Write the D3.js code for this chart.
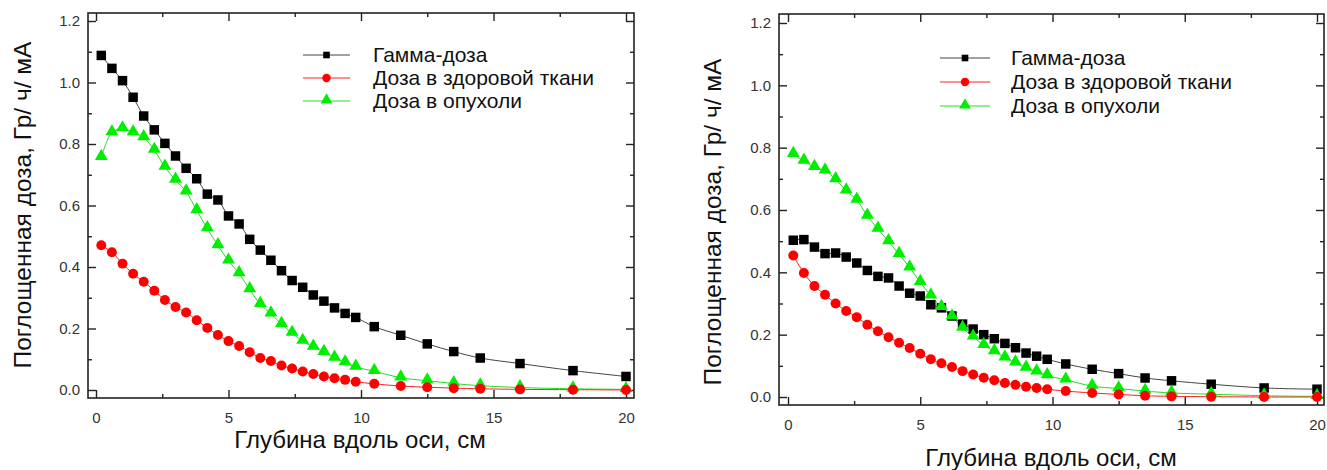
<!DOCTYPE html>
<html><head><meta charset="utf-8">
<script src="https://cdn.jsdelivr.net/npm/d3@7"></script>
<style>body{margin:0;background:#fff}svg{display:block}text{font-family:"Liberation Sans",Arial,sans-serif}</style>
</head><body>
<svg id="c" width="1327" height="470"></svg>
<script>
const depth = [0.2,0.6,1.0,1.4,1.8,2.2,2.6,3.0,3.4,3.8,4.2,4.6,5.0,5.4,5.8,6.2,6.6,7.0,7.4,7.8,8.2,8.6,9.0,9.4,9.8,10.5,11.5,12.5,13.5,14.5,16,18,20];
const seriesNames = ["Гамма-доза","Доза в здоровой ткани","Доза в опухоли"];
// Left panel
const leftGamma = [1.088,1.046,1.006,0.952,0.891,0.846,0.802,0.761,0.721,0.687,0.637,0.618,0.566,0.540,0.490,0.455,0.422,0.388,0.356,0.334,0.309,0.289,0.267,0.249,0.236,0.206,0.178,0.150,0.125,0.104,0.086,0.063,0.044];
const leftHealthy = [0.471,0.448,0.411,0.378,0.352,0.323,0.293,0.270,0.252,0.227,0.202,0.179,0.159,0.143,0.123,0.104,0.094,0.080,0.070,0.060,0.052,0.044,0.038,0.033,0.027,0.020,0.013,0.009,0.006,0.004,0.002,0.001,0.0];
const leftTumor = [0.757,0.837,0.850,0.837,0.821,0.780,0.725,0.683,0.645,0.584,0.525,0.470,0.420,0.379,0.327,0.279,0.248,0.214,0.185,0.159,0.140,0.123,0.104,0.089,0.075,0.061,0.040,0.030,0.021,0.014,0.008,0.004,0.002];
// Right panel
const rightGamma = [0.503,0.505,0.481,0.460,0.462,0.449,0.430,0.406,0.387,0.382,0.356,0.333,0.324,0.296,0.286,0.260,0.234,0.218,0.200,0.187,0.172,0.158,0.141,0.131,0.121,0.106,0.089,0.075,0.061,0.052,0.041,0.029,0.025];
const rightHealthy = [0.454,0.398,0.356,0.328,0.300,0.276,0.256,0.232,0.211,0.192,0.174,0.157,0.139,0.121,0.108,0.096,0.083,0.072,0.062,0.054,0.045,0.039,0.033,0.029,0.025,0.019,0.013,0.008,0.004,0.002,0.001,0.0,0.0];
const rightTumor = [0.779,0.757,0.737,0.726,0.698,0.662,0.632,0.581,0.539,0.499,0.458,0.415,0.368,0.325,0.288,0.258,0.221,0.193,0.166,0.146,0.126,0.110,0.093,0.081,0.069,0.055,0.035,0.027,0.019,0.013,0.009,0.004,0.002];
const xTicks = [0,5,10,15,20];
const yTicks = [0.0,0.2,0.4,0.6,0.8,1.0,1.2];
const xTitle = "Глубина вдоль оси, см";
const yTitle = "Поглощенная доза, Гр/ ч/ мА";

const colors = ["#000000","#ff0000","#00ee00"];
const lineColors = ["#444444","#ff2020","#22dd22"];
const svg = d3.select("#c");

function panel(cfg, series) {
  const g = svg.append("g");
  const x = d3.scaleLinear().domain([0,20]).range([cfg.x0, cfg.x20]);
  const y = d3.scaleLinear().domain([0,1.2]).range([cfg.y0, cfg.y12]);
  const L = cfg.left, R = cfg.right, T = cfg.top, B = cfg.bottom;
  const fmt = d3.format(".1f");
  const ax = (sel, axis) => { sel.call(axis); sel.select(".domain").remove(); sel.selectAll("line").attr("stroke","#222").attr("stroke-width",1.4); sel.selectAll("text").attr("fill","#333").attr("font-size",15); };
  g.append("g").attr("transform",`translate(0,${B})`).call(s=>ax(s,d3.axisBottom(x).tickValues(xTicks).tickSize(-8).tickPadding(14)));
  g.append("g").attr("transform",`translate(0,${B})`).call(s=>ax(s,d3.axisBottom(x).tickValues([2.5,7.5,12.5,17.5]).tickSize(-4).tickFormat("")));
  g.append("g").attr("transform",`translate(0,${T})`).call(s=>ax(s,d3.axisTop(x).tickValues(xTicks).tickSize(-8).tickFormat("")));
  g.append("g").attr("transform",`translate(0,${T})`).call(s=>ax(s,d3.axisTop(x).tickValues([2.5,7.5,12.5,17.5]).tickSize(-4).tickFormat("")));
  g.append("g").attr("transform",`translate(${L},0)`).call(s=>ax(s,d3.axisLeft(y).tickValues(yTicks).tickSize(-8).tickPadding(8).tickFormat(fmt)));
  g.append("g").attr("transform",`translate(${L},0)`).call(s=>ax(s,d3.axisLeft(y).tickValues([0.1,0.3,0.5,0.7,0.9,1.1]).tickSize(-4).tickFormat("")));
  g.append("g").attr("transform",`translate(${R},0)`).call(s=>ax(s,d3.axisRight(y).tickValues(yTicks).tickSize(-8).tickFormat("")));
  g.append("g").attr("transform",`translate(${R},0)`).call(s=>ax(s,d3.axisRight(y).tickValues([0.1,0.3,0.5,0.7,0.9,1.1]).tickSize(-4).tickFormat("")));
  g.append("rect").attr("x",L).attr("y",T).attr("width",R-L).attr("height",B-T).attr("fill","none").attr("stroke","#222").attr("stroke-width",1.6);

  const line = d3.line().x((d,i)=>x(depth[i])).y(d=>y(d)).curve(d3.curveCatmullRom.alpha(0.5));
  const sq = d3.symbol().type(d3.symbolSquare).size(90);
  const ci = d3.symbol().type(d3.symbolCircle).size(78);
  const tr = d3.symbol().type(d3.symbolTriangle).size(72);
  const syms = [sq, ci, tr];
  const order = [0,2,1];
  order.forEach(k=>{
    g.append("path").attr("d", line(series[k])).attr("fill","none").attr("stroke",lineColors[k]).attr("stroke-width",1);
  });
  order.forEach(k=>{
    g.append("g").selectAll("path").data(series[k]).join("path")
      .attr("transform",(d,i)=>`translate(${x(depth[i])},${y(d) + (k===2?-1:0)})`)
      .attr("d", syms[k]()).attr("fill", colors[k]);
  });
  seriesNames.forEach((name,k)=>{
    const ly = cfg.legY + k*cfg.legDy;
    g.append("line").attr("x1",cfg.legX).attr("x2",cfg.legX+cfg.legW).attr("y1",ly).attr("y2",ly).attr("stroke",lineColors[k]).attr("stroke-width",1);
    g.append("path").attr("transform",`translate(${cfg.legX+cfg.legW/2},${ly+(k===2?-1:0)})`).attr("d", d3.symbol().type([d3.symbolSquare,d3.symbolCircle,d3.symbolTriangle][k]).size(k===0?44:(k===1?56:60))()).attr("fill",colors[k]);
    g.append("text").attr("x",cfg.legTx).attr("y",ly).attr("dy","0.35em").attr("font-size",21).attr("fill","#111").text(name);
  });
  g.append("text").attr("x",cfg.xtX).attr("y",cfg.xtY).attr("text-anchor","middle").attr("dy","0.35em").attr("font-size",24).attr("fill","#111").text(xTitle);
  g.append("text").attr("transform",`translate(${cfg.ytX},${cfg.ytY}) rotate(-90)`).attr("text-anchor","middle").attr("dy","0.35em").attr("font-size",24.5).attr("fill","#111").text(yTitle);
}

panel({x0:96,x20:626,y0:390,y12:21,left:88,right:634,top:13,bottom:398,
       legX:303,legW:47,legY:55,legDy:23,legTx:373,xtX:360,xtY:440,ytX:22,ytY:205},
      [leftGamma,leftHealthy,leftTumor]);
panel({x0:788,x20:1317,y0:397,y12:23,left:779,right:1324,top:14,bottom:405,
       legX:940,legW:50,legY:58,legDy:24,legTx:1011,xtX:1051,xtY:458,ytX:712,ytY:222},
      [rightGamma,rightHealthy,rightTumor]);
</script>
</body></html>
